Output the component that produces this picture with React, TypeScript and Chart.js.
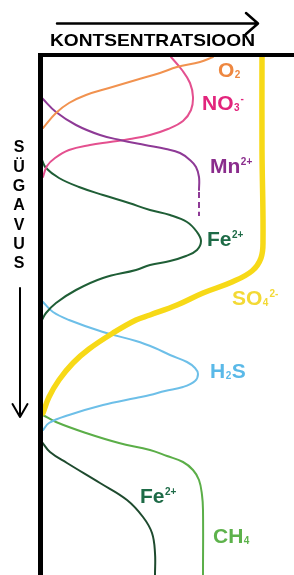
import { useEffect, useRef } from "react";
import { Chart, registerables } from "chart.js";

Chart.register(...registerables);

// Concentration (arbitrary units) vs depth (arbitrary units, downwards)
const o2Conc = [171, 158, 135, 118, 94, 67, 44, 27, 14, 1];
const o2Depth = [0, 5, 10, 16, 23, 31, 38, 46, 56, 71];

const no3Conc = [129, 140, 148, 151, 149, 141, 126, 108, 88, 68, 48, 27, 13, 5, 1];
const no3Depth = [0, 13, 26, 40, 53, 64, 72, 78, 82, 85, 88, 93, 101, 109, 120];

const mnConc = [0, 14, 34, 58, 78, 103, 124, 138, 148, 154, 157, 157];
const mnDepth = [41, 55, 68, 78, 83, 88, 92, 96, 103, 110, 120, 133];
const mnDashConc = [157, 157];
const mnDashDepth = [135, 159];

const feUpConc = [0, 4, 17, 37, 61, 87, 108, 128, 145, 155, 159, 155, 144, 128, 108, 94, 61, 34, 14, 4, 0];
const feUpDepth = [103, 111, 121, 130, 138, 146, 153, 158, 165, 175, 184, 193, 199, 204, 208, 213, 221, 233, 246, 256, 263];

const so4Conc = [220, 220, 221, 219, 210, 190, 161, 135, 108, 94, 71, 47, 31, 17, 7, 1];
const so4Depth = [0, 93, 183, 201, 214, 225, 236, 248, 258, 263, 276, 292, 306, 323, 340, 356];

const h2sConc = [1, 11, 27, 61, 94, 113, 128, 145, 153, 156, 153, 141, 123, 108, 94, 61, 27, 7, 1];
const h2sDepth = [245, 255, 263, 275, 284, 291, 298, 305, 311, 317, 324, 330, 334, 338, 341, 348, 358, 366, 373];

const ch4Conc = [1, 14, 44, 77, 108, 125, 141, 151, 157, 160, 161, 161];
const ch4Depth = [358, 365, 376, 386, 393, 399, 405, 413, 423, 438, 453, 518];

const feLowConc = [0, 8, 25, 58, 85, 101, 110, 113, 113];
const feLowDepth = [385, 395, 406, 426, 443, 460, 476, 496, 518];

const titleText = "KONTSENTRATSIOON";
const depthLetters = ["S", "Ü", "G", "A", "V", "U", "S"];

type Part = { t: string; k?: "sub" | "sup" };
const chemLabels: { parts: Part[]; color: string; conc: number; depth: number }[] = [
  { parts: [{ t: "O" }, { t: "2", k: "sub" }], color: "#EE8740", conc: 176, depth: 20 },
  { parts: [{ t: "NO" }, { t: "3", k: "sub" }, { t: "-", k: "sup" }], color: "#E2247C", conc: 160, depth: 53 },
  { parts: [{ t: "Mn" }, { t: "2+", k: "sup" }], color: "#8A2C8C", conc: 168, depth: 116 },
  { parts: [{ t: "Fe" }, { t: "2+", k: "sup" }], color: "#1E6B47", conc: 165, depth: 189 },
  { parts: [{ t: "SO" }, { t: "4", k: "sub" }, { t: "2-", k: "sup" }], color: "#F3D935", conc: 190, depth: 248 },
  { parts: [{ t: "H" }, { t: "2", k: "sub" }, { t: "S" }], color: "#5AB9E8", conc: 168, depth: 321 },
  { parts: [{ t: "Fe" }, { t: "2+", k: "sup" }], color: "#1E6B47", conc: 98, depth: 446 },
  { parts: [{ t: "CH" }, { t: "4", k: "sub" }], color: "#5DB24B", conc: 171, depth: 486 },
];

const pts = (c: number[], d: number[]) => c.map((x, i) => ({ x, y: d[i] }));

const FONT = "'Liberation Sans', Arial, sans-serif";

const decorPlugin = {
  id: "decor",
  afterDatasetsDraw(chart: any) {
    const { ctx, chartArea: a, scales } = chart;
    ctx.save();
    // frame
    ctx.fillStyle = "#000";
    ctx.fillRect(a.left - 4, a.top - 4, 5, chart.height - a.top + 4);
    ctx.fillRect(a.left - 4, a.top - 4, chart.width - a.left + 4, 4);

    // title
    ctx.save();
    ctx.font = `bold 17px ${FONT}`;
    ctx.textBaseline = "alphabetic";
    ctx.textAlign = "left";
    const w = ctx.measureText(titleText).width;
    ctx.translate(50, 45.5);
    ctx.scale(205 / w, 1);
    ctx.fillText(titleText, 0, 0);
    ctx.restore();

    // top arrow
    ctx.strokeStyle = "#000";
    ctx.lineWidth = 2.5;
    ctx.lineCap = "round";
    ctx.lineJoin = "round";
    ctx.beginPath();
    ctx.moveTo(57, 23.5);
    ctx.lineTo(257, 23.5);
    ctx.moveTo(246, 13);
    ctx.lineTo(258, 23.5);
    ctx.lineTo(246, 34);
    ctx.stroke();

    // vertical depth word
    ctx.font = `bold 16px ${FONT}`;
    ctx.textAlign = "center";
    ctx.textBaseline = "middle";
    depthLetters.forEach((l, i) => {
      ctx.fillText(l, 19, 148 + i * 19.3);
    });

    // down arrow
    ctx.lineWidth = 2;
    ctx.beginPath();
    ctx.moveTo(20, 288);
    ctx.lineTo(20, 417);
    ctx.moveTo(12.5, 404);
    ctx.lineTo(20, 417);
    ctx.lineTo(27.5, 404);
    ctx.stroke();

    // chemical labels
    ctx.textAlign = "left";
    ctx.textBaseline = "alphabetic";
    chemLabels.forEach((lab) => {
      let x = scales.x.getPixelForValue(lab.conc);
      const y = scales.y.getPixelForValue(lab.depth);
      ctx.fillStyle = lab.color;
      lab.parts.forEach((p) => {
        if (!p.k) {
          ctx.font = `bold 21px ${FONT}`;
          ctx.fillText(p.t, x, y);
          x += ctx.measureText(p.t).width;
        } else {
          ctx.font = `bold 10px ${FONT}`;
          const dy = p.k === "sub" ? 1 : -8;
          ctx.fillText(p.t, x + 0.5, y + dy);
          x += ctx.measureText(p.t).width + 1;
        }
      });
    });
    ctx.restore();
  },
};

export default function App() {
  const ref = useRef<HTMLCanvasElement>(null);
  useEffect(() => {
    if (!ref.current) return;
    const line = (data: any, color: string, width = 2, extra: any = {}) => ({
      data,
      borderColor: color,
      backgroundColor: color,
      borderWidth: width,
      showLine: true,
      pointRadius: 0,
      tension: 0.4,
      fill: false,
      borderCapStyle: "round",
      ...extra,
    });
    const chart = new Chart(ref.current, {
      type: "scatter",
      data: {
        datasets: [
          line(pts(so4Conc, so4Depth), "#F7D917", 5.5),
          line(pts(o2Conc, o2Depth), "#F1924F"),
          line(pts(mnConc, mnDepth), "#8E3A96"),
          line(pts(mnDashConc, mnDashDepth), "#8E3A96", 2, { borderDash: [6, 4], borderCapStyle: "butt" }),
          line(pts(no3Conc, no3Depth), "#E4508F"),
          line(pts(feUpConc, feUpDepth), "#1F5E36"),
          line(pts(h2sConc, h2sDepth), "#6DBFE8"),
          line(pts(ch4Conc, ch4Depth), "#5BAE48"),
          line(pts(feLowConc, feLowDepth), "#1E4A2E"),
        ] as any,
      },
      options: {
        animation: false,
        responsive: true,
        maintainAspectRatio: false,
        layout: { padding: { left: 42, top: 57, right: 0, bottom: 0 } },
        scales: {
          x: { type: "linear", min: 0, max: 252, display: false },
          y: { type: "linear", min: 0, max: 518, reverse: true, display: false },
        },
        plugins: { legend: { display: false }, tooltip: { enabled: false } },
        events: [],
      },
      plugins: [decorPlugin],
    });
    return () => chart.destroy();
  }, []);
  return (
    <div style={{ position: "absolute", left: 0, top: 0, width: 294, height: 575, background: "#fff" }}>
      <canvas ref={ref} />
    </div>
  );
}
